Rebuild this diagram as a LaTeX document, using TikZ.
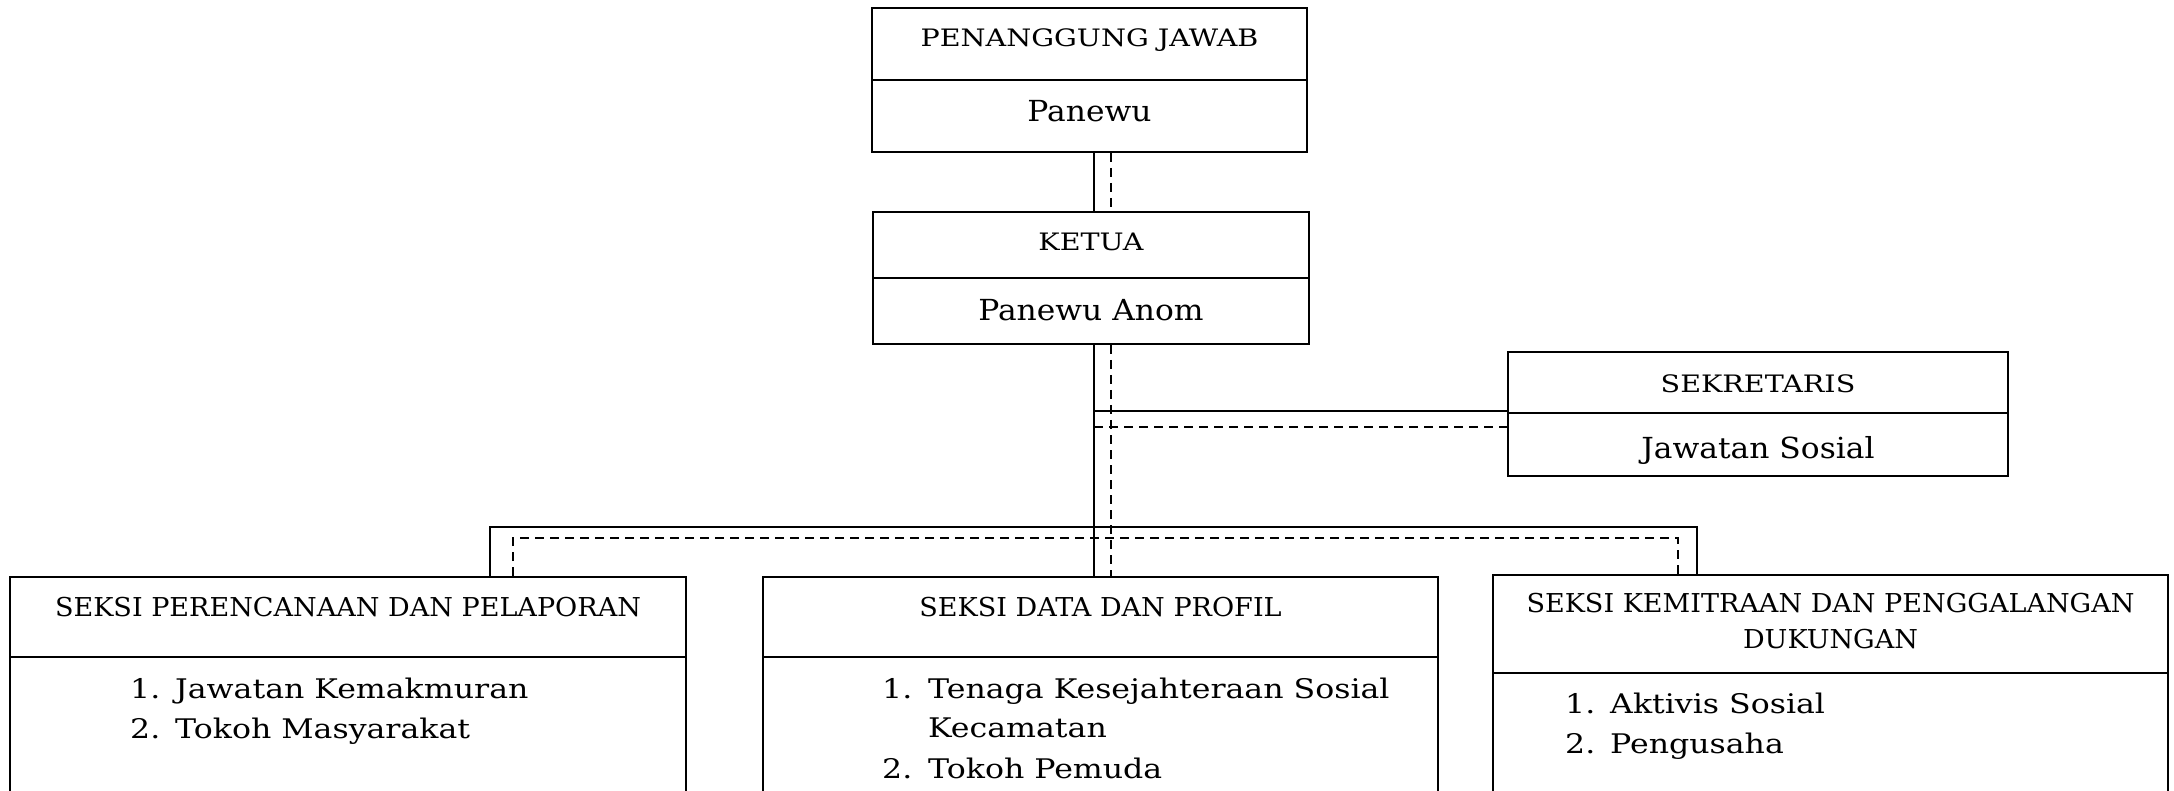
\documentclass[tikz,border=0pt]{standalone}
\usepackage{fontspec}
\setmainfont{DejaVu Serif}
\newfontfamily\fhd[FakeStretch=1.19]{DejaVu Serif}
\newfontfamily\fbd[FakeStretch=1.08]{DejaVu Serif}
\newfontfamily\fsh[FakeStretch=1.04]{DejaVu Serif}
\newfontfamily\fli[FakeStretch=1.17]{DejaVu Serif}
\begin{document}
\begin{tikzpicture}[x=1pt,y=-1pt,
  box/.style={draw,line width=2pt,inner sep=0pt},
  ln/.style={line width=2pt},
  dsh/.style={line width=2pt,dash pattern=on 9pt off 6pt},
  hd/.style={font=\fhd\fontsize{24}{27}\selectfont,inner sep=0pt,anchor=base},
  bd/.style={font=\fbd\fontsize{29}{32}\selectfont,inner sep=0pt,anchor=base},
  sh/.style={font=\fsh\fontsize{26}{27}\selectfont,inner sep=0pt,anchor=base},
  li/.style={font=\fli\fontsize{27}{30}\selectfont,inner sep=0pt,anchor=base west}]
\useasboundingbox (0,0) rectangle (2174,791);
\clip (0,0) rectangle (2174,791);
% trunk x positions
\coordinate (sx) at (1094,0);
\coordinate (dx) at (1111,0);
% boxes
\node[box,minimum width=435pt,minimum height=144pt] (pj) at (1089.5,80) {};
\node[box,minimum width=436pt,minimum height=132pt] (ke) at (1091,278) {};
\node[box,minimum width=500pt,minimum height=124pt] (se) at (1758,414) {};
\node[box,minimum width=676pt,minimum height=260pt] (b1) at (348,707) {};
\node[box,minimum width=675pt,minimum height=260pt] (b2) at (1100.5,707) {};
\node[box,minimum width=675pt,minimum height=262pt] (b3) at (1830.5,706) {};
% dividers
\coordinate (pjd) at (0,80);
\coordinate (ked) at (0,278);
\coordinate (sed) at (0,413);
\coordinate (b1d) at (0,657);
\coordinate (b2d) at (0,657);
\coordinate (b3d) at (0,673);
\draw[ln] (pj.west |- pjd) -- (pj.east |- pjd);
\draw[ln] (ke.west |- ked) -- (ke.east |- ked);
\draw[ln] (se.west |- sed) -- (se.east |- sed);
\draw[ln] (b1.west |- b1d) -- (b1.east |- b1d);
\draw[ln] (b2.west |- b2d) -- (b2.east |- b2d);
\draw[ln] (b3.west |- b3d) -- (b3.east |- b3d);
% texts
\node[hd] (pjt) at (1089.5,47) {PENANGGUNG JAWAB};
\node[bd] (pjb) at (1089.5,122) {Panewu};
\node[hd] (ket) at (1091,251) {KETUA};
\node[bd] (keb) at (1091,321) {Panewu Anom};
\node[hd] (set) at (1758,392) {SEKRETARIS};
\node[bd] (seb) at (1758,458) {Jawatan Sosial};
\node[sh] (b1t) at (348,616) {SEKSI PERENCANAAN DAN PELAPORAN};
\node[sh] (b2t) at (1100.5,616) {SEKSI DATA DAN PROFIL};
\node[sh] (b3t) at (1830.5,612) {SEKSI KEMITRAAN DAN PENGGALANGAN};
\node[sh] (b3t2) at (1830.5,648) {DUKUNGAN};
\node[li] (b1n1) at (130,698) {1.};
\node[li] (b1i1) at (175,698) {Jawatan Kemakmuran};
\node[li] (b1n2) at (130,738) {2.};
\node[li] (b1i2) at (175,738) {Tokoh Masyarakat};
\node[li] (b2n1) at (882,698) {1.};
\node[li] (b2i1) at (928,698) {Tenaga Kesejahteraan Sosial};
\node[li] (b2i1b) at (928,737) {Kecamatan};
\node[li] (b2n2) at (882,778) {2.};
\node[li] (b2i2) at (928,778) {Tokoh Pemuda};
\node[li] (b3n1) at (1565,713) {1.};
\node[li] (b3i1) at (1610,713) {Aktivis Sosial};
\node[li] (b3n2) at (1565,753) {2.};
\node[li] (b3i2) at (1610,753) {Pengusaha};
% connectors
\draw[ln] (pj.south -| sx) -- (ke.north -| sx);
\draw[dsh] (pj.south -| dx) -- (ke.north -| dx);
\draw[ln] (ke.south -| sx) -- (b2.north -| sx);
\draw[dsh] (ke.south -| dx) -- (b2.north -| dx);
\coordinate (sesy) at (0,411);
\coordinate (sedy) at (0,427);
\draw[ln] (sx |- sesy) -- (se.west |- sesy);
\draw[dsh] (sx |- sedy) -- (se.west |- sedy);
% bus
\coordinate (bsy) at (0,527);
\coordinate (bdy) at (0,538);
\coordinate (b1s) at (490,0);
\coordinate (b1x) at (513,0);
\coordinate (b3s) at (1697,0);
\coordinate (b3x) at (1678,0);
\draw[ln] (b1.north -| b1s) -- (b1s |- bsy) -- (b3s |- bsy) -- (b3.north -| b3s);
\draw[dsh] (b1.north -| b1x) -- (b1x |- bdy) -- (b3x |- bdy) -- (b3.north -| b3x);
\end{tikzpicture}
\end{document}
